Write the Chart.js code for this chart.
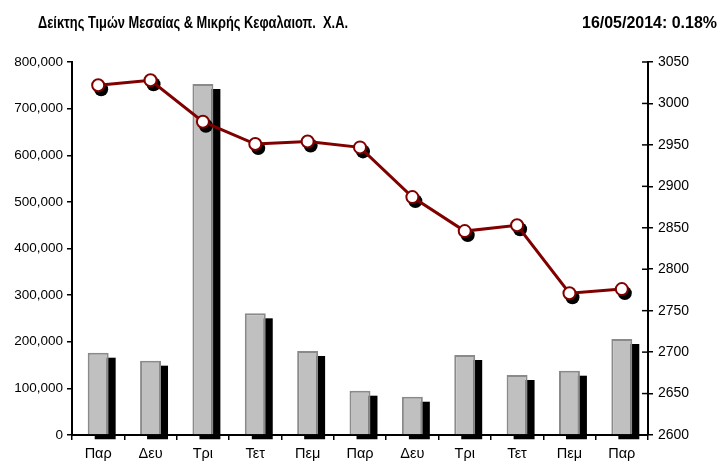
<!DOCTYPE html>
<html>
<head>
<meta charset="utf-8">
<script src="https://cdn.jsdelivr.net/npm/chart.js@4"></script>
<style>
  html, body { margin: 0; padding: 0; background: #fff; }
  canvas { display: block; }
</style>
</head>
<body>
<canvas id="grafico" width="719" height="467"></canvas>
<script>
const dias = ["Παρ", "Δευ", "Τρι", "Τετ", "Πεμ", "Παρ", "Δευ", "Τρι", "Τετ", "Πεμ", "Παρ"];
const volume = [176500, 159400, 752800, 261000, 180200, 95000, 82100, 171600, 128700, 137900, 205900];
const indice = [3022, 3028, 2978, 2951, 2954, 2947, 2887, 2846, 2853, 2771, 2776];
const tituloEsq = "Δείκτης Τιμών Μεσαίας & Μικρής Κεφαλαιοπ.  Χ.Α.";
const tituloDir = "16/05/2014: 0.18%";

const FONTE = "'Liberation Sans', Arial, sans-serif";

// sombra preta das barras e dos marcadores
const sombras = {
  id: "sombras",
  beforeDatasetDraw(chart, args) {
    const meta = args.meta;
    const ctx = chart.ctx;
    ctx.save();
    ctx.fillStyle = "#000";
    if (meta.type === "bar") {
      meta.data.forEach(b => {
        ctx.fillRect(b.x - b.width / 2 + 7, b.y + 5, b.width, b.base - b.y);
      });
    } else if (meta.type === "line") {
      meta.data.forEach(p => {
        ctx.beginPath();
        ctx.arc(p.x + 3, p.y + 4, 7, 0, Math.PI * 2);
        ctx.fill();
      });
    }
    ctx.restore();
  }
};

// titulos + marcas do eixo direito para dentro
const extras = {
  id: "extras",
  afterDraw(chart) {
    const ctx = chart.ctx;
    ctx.save();
    ctx.fillStyle = "#000";
    ctx.textBaseline = "middle";
    ctx.font = "bold 17px " + FONTE;
    const escreve = (txt, x0, x1) => {
      const w = ctx.measureText(txt).width;
      ctx.save();
      ctx.translate(x0, 23);
      ctx.scale((x1 - x0) / w, 1);
      ctx.textAlign = "left";
      ctx.fillText(txt, 0, 0);
      ctx.restore();
    };
    escreve(tituloEsq, 38, 348);
    escreve(tituloDir, 582, 717);

    const yd = chart.scales.yd;
    ctx.strokeStyle = "#000";
    ctx.lineWidth = 1.5;
    yd.ticks.forEach((t, i) => {
      const y = yd.getPixelForTick(i);
      ctx.beginPath();
      ctx.moveTo(yd.left - 6, y);
      ctx.lineTo(yd.left, y);
      ctx.stroke();
    });
    ctx.restore();
  }
};

new Chart(document.getElementById("grafico"), {
  data: {
    labels: dias,
    datasets: [
      {
        type: "line",
        data: indice,
        yAxisID: "yd",
        order: 0,
        borderColor: "#800000",
        borderWidth: 3,
        tension: 0,
        pointRadius: 6,
        pointBorderWidth: 2,
        pointBackgroundColor: "#fff",
        pointBorderColor: "#800000"
      },
      {
        type: "bar",
        data: volume,
        yAxisID: "ye",
        order: 1,
        backgroundColor: "#c0c0c0",
        borderColor: "#8a8a8a",
        borderWidth: 2,
        categoryPercentage: 1,
        barPercentage: 0.4
      }
    ]
  },
  options: {
    responsive: false,
    devicePixelRatio: 1,
    animation: false,
    layout: { padding: { top: 62, left: 0, right: 0, bottom: 0 } },
    plugins: { legend: { display: false }, tooltip: { enabled: false }, title: { display: false } },
    scales: {
      x: {
        offset: true,
        grid: { offset: true, drawOnChartArea: false, tickLength: 5, color: "#000", lineWidth: 1.5 },
        border: { display: true, color: "#000", width: 2 },
        ticks: { color: "#000", font: { family: FONTE, size: 14.5 }, padding: 5, maxRotation: 0 },
        afterFit(s) { s.height = 32; }
      },
      ye: {
        position: "left",
        min: 0, max: 800000,
        grid: { drawOnChartArea: false, tickLength: 5, color: "#000", lineWidth: 1.5 },
        border: { display: true, color: "#000", width: 2 },
        ticks: {
          stepSize: 100000, color: "#000", padding: 4,
          font: { family: FONTE, size: 13.5 },
          callback: v => v.toLocaleString("en-US")
        },
        afterFit(s) { s.width = 72; }
      },
      yd: {
        position: "right",
        min: 2600, max: 3050,
        grid: { drawOnChartArea: false, tickLength: 5, color: "#000", lineWidth: 1.5 },
        border: { display: true, color: "#000", width: 2 },
        ticks: {
          stepSize: 50, color: "#000", padding: 5,
          font: { family: FONTE, size: 14 },
          callback: v => String(v)
        },
        afterFit(s) { s.width = 71; }
      }
    }
  },
  plugins: [sombras, extras]
});
</script>
</body>
</html>
